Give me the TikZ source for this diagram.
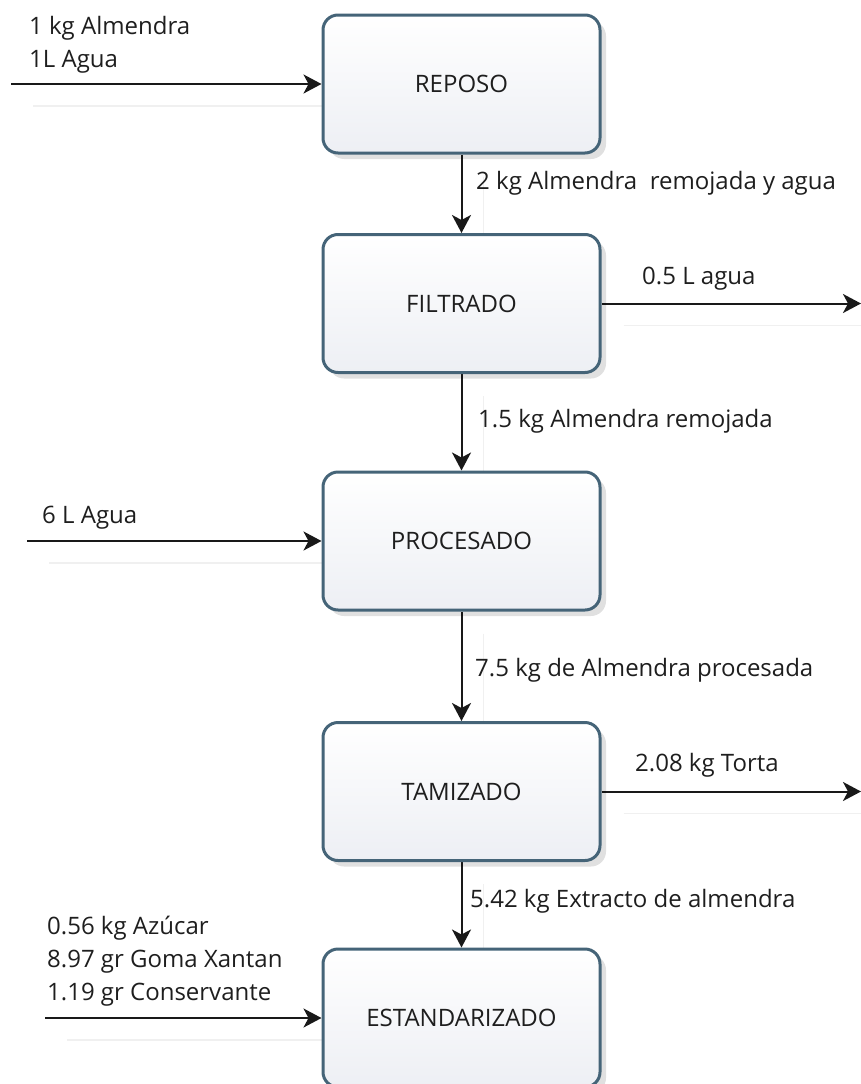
\documentclass[tikz,border=0pt]{standalone}
\usepackage{fontspec}
\setmainfont{Open Sans}
\usetikzlibrary{arrows.meta,shadows}
\definecolor{boxborder}{HTML}{456478}
\definecolor{boxfill}{HTML}{EDEFF4}
\definecolor{txt}{HTML}{1E1E1E}
\pgfdeclarelayer{bg}
\pgfsetlayers{bg,main}
\tikzset{
  stepbox/.style={rectangle, rounded corners=15pt, draw=boxborder, line width=3pt,
    top color=white, bottom color=boxfill, minimum width=277pt, minimum height=138pt,
    inner sep=0pt, text=txt, font=\fontsize{24}{28}\selectfont,
    drop shadow={shadow xshift=6pt, shadow yshift=-6pt, opacity=0.12, fill=black}},
  flow/.style={draw=black!90, line width=2pt, -{Stealth[length=18pt,width=19pt,inset=5pt]},
    preaction={draw=black!6, line width=1.5pt, -, transform canvas={shift={(22pt,-22pt)}}}},
  lbl/.style={inner sep=0pt, anchor=base west, text=txt, align=left,
    font=\fontsize{24}{33}\selectfont}
}
\begin{document}
\begin{tikzpicture}[x=1pt,y=-1pt]
\useasboundingbox (0,0) rectangle (861,1084);
\clip (0,0) rectangle (861,1084);
% process boxes
\node[stepbox] (rep) at (461.5,84) {REPOSO};
\node[stepbox] (fil) at (461.5,303.5) {FILTRADO};
\node[stepbox] (pro) at (461.5,541) {PROCESADO};
\node[stepbox] (tam) at (461.5,791.5) {TAMIZADO};
\node[stepbox] (est) at (461.5,1018) {ESTANDARIZADO};
% free ends
\coordinate (in1) at (11,84);
\coordinate (in2) at (27,541);
\coordinate (in3) at (45,1018);
\coordinate (out1) at (861,303.5);
\coordinate (out2) at (861,791.5);
% connectors
\begin{pgfonlayer}{bg}
\draw[flow] (in1) -- (rep.west);
\draw[flow] (rep.south) -- (fil.north);
\draw[flow] (fil.east) -- (out1);
\draw[flow] (fil.south) -- (pro.north);
\draw[flow] (in2) -- (pro.west);
\draw[flow] (pro.south) -- (tam.north);
\draw[flow] (tam.east) -- (out2);
\draw[flow] (tam.south) -- (est.north);
\draw[flow] (in3) -- (est.west);
\end{pgfonlayer}
% labels (base = baseline of last line)
\node[lbl] (l1) at (29,67) {1 kg Almendra\\1L Agua};
\node[lbl] (l2) at (476,189) {2 kg Almendra\ \ remojada y agua};
\node[lbl] (l3) at (642,284) {0.5 L agua};
\node[lbl] (l4) at (478,427) {1.5 kg Almendra remojada};
\node[lbl] (l5) at (42,523) {6 L Agua};
\node[lbl] (l6) at (475,676) {7.5 kg de Almendra procesada};
\node[lbl] (l7) at (635,771) {2.08 kg Torta};
\node[lbl] (l8) at (470,907) {5.42 kg Extracto de almendra};
\node[lbl] (l9) at (47,1000) {0.56 kg Azúcar\\8.97 gr Goma Xantan\\1.19 gr Conservante};
\end{tikzpicture}
\end{document}
